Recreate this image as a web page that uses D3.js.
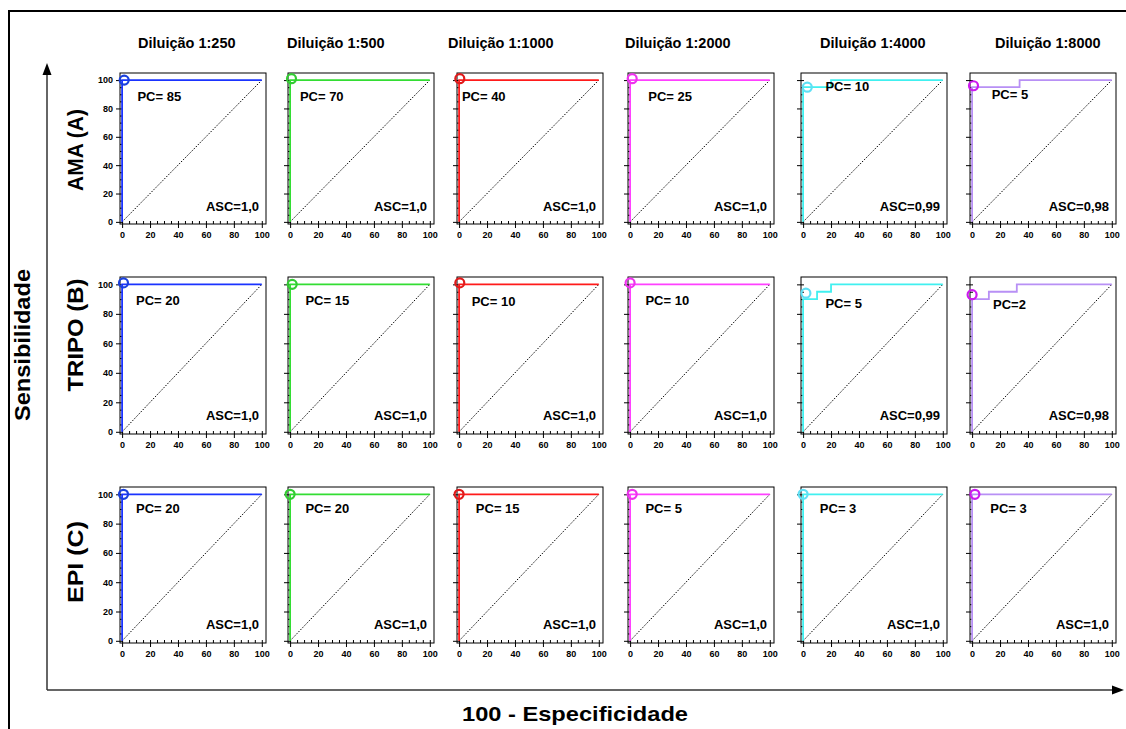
<!DOCTYPE html>
<html>
<head>
<meta charset="UTF-8">
<title>Curvas ROC por diluição</title>
<script src="https://cdn.jsdelivr.net/npm/d3@7"></script>
<style>
body { margin: 0; background: #fff; }
svg text { font-family: "Liberation Sans", Arial, sans-serif; font-weight: bold; fill: #000; }
.box { fill: #fff; stroke: #000; stroke-width: 1; }
.diag { fill: none; stroke: #000; stroke-width: 1; stroke-dasharray: 1.5, 1.5; }
.roc { fill: none; stroke-width: 1.8; }
.cut { fill: none; stroke-width: 2.2; }
.tick line, .minor line { stroke: #000; }
.minor text { display: none; }
</style>
</head>
<body>
<svg id="chart" width="1126" height="729"></svg>
<script>
// data
var dilutions = ["Diluição 1:250", "Diluição 1:500", "Diluição 1:1000", "Diluição 1:2000", "Diluição 1:4000", "Diluição 1:8000"];
var antigens = ["AMA (A)", "TRIPO (B)", "EPI (C)"];
var pcValues = [
  [85, 70, 40, 25, 10, 5],
  [20, 15, 10, 10, 5, 2],
  [20, 20, 15, 5, 3, 3]
];
var ascValues = [
  ["1,0", "1,0", "1,0", "1,0", "0,99", "0,98"],
  ["1,0", "1,0", "1,0", "1,0", "0,99", "0,98"],
  ["1,0", "1,0", "1,0", "1,0", "1,0", "1,0"]
];
// ROC curves: [100 - especificidade, sensibilidade]
var rocPerfect = [[0, 0], [0, 100], [100, 100]];
var rocA4000 = [[0, 0], [0, 95], [20, 95], [20, 100], [100, 100]];
var rocA8000 = [[0, 0], [0, 95], [34, 95], [34, 100], [100, 100]];
var rocB4000 = [[0, 0], [0, 90], [10, 90], [10, 95], [20, 95], [20, 100], [100, 100]];
var rocB8000 = [[0, 0], [0, 90], [12, 90], [12, 95], [32, 95], [32, 100], [100, 100]];
var rocCurves = [
  [rocPerfect, rocPerfect, rocPerfect, rocPerfect, rocA4000, rocA8000],
  [rocPerfect, rocPerfect, rocPerfect, rocPerfect, rocB4000, rocB8000],
  [rocPerfect, rocPerfect, rocPerfect, rocPerfect, rocPerfect, rocPerfect]
];
// cut-off points (PC)
var cutPoints = [
  [[1.5, 100], [1, 101], [0.5, 101], [1.5, 101], [3, 95], [1, 96]],
  [[1, 101], [1.5, 100], [0.5, 101], [0, 101], [2, 94], [0, 93]],
  [[1, 100], [0, 100], [0, 100], [1.5, 100], [0, 100], [2, 100]]
];
var tickLabels = [0, 20, 40, 60, 80, 100];

// layout
var lineColors = ["#1a33ff", "#33dd33", "#ff1a1a", "#ff40ff", "#40f0f0", "#b890f5"];
var pointColors = ["#1a40dd", "#33cc33", "#e01a1a", "#ee33ee", "#5ee0f5", "#cc1aee"];
var boxLeft = [120, 288, 457, 628, 801, 970];
var boxTop = [73, 277, 487];
var boxBottom = [224, 434, 643];
var boxWidth = 146;
var titleX = [138, 287, 448, 625, 820, 995];
var rowLabelY = [150, 335, 562];
var rowLabelLen = [82, 113, 82];
var pcAt = [
  [[11, 85], [7, 85], [2, 85], [13, 85], [16, 92], [14, 87]],
  [[10, 86], [11, 86], [9, 85], [11, 86], [16, 84], [15, 83]],
  [[10, 87], [11, 87], [12, 87], [11, 87], [12, 87], [13, 87]]
];

var svg = d3.select("#chart");

// outer frame
svg.append("path")
  .attr("d", "M9,729 V11 H1126")
  .attr("fill", "none").attr("stroke", "#000").attr("stroke-width", 2);

// big axes arrows
svg.append("line").attr("x1", 47).attr("y1", 690).attr("x2", 47).attr("y2", 74)
  .attr("stroke", "#333").attr("stroke-width", 1.5);
svg.append("path").attr("d", "M47,63 L42.5,75 L51.5,75 Z").attr("fill", "#000");
svg.append("line").attr("x1", 47).attr("y1", 690).attr("x2", 1113).attr("y2", 690)
  .attr("stroke", "#333").attr("stroke-width", 1.5);
svg.append("path").attr("d", "M1124,690 L1112,685.5 L1112,694.5 Z").attr("fill", "#000");

svg.append("text")
  .attr("transform", "translate(30,345) rotate(-90)")
  .attr("text-anchor", "middle")
  .attr("font-size", 22)
  .attr("textLength", 152).attr("lengthAdjust", "spacingAndGlyphs")
  .text("Sensibilidade");

svg.append("text")
  .attr("x", 575).attr("y", 721)
  .attr("text-anchor", "middle")
  .attr("font-size", 21)
  .attr("textLength", 226).attr("lengthAdjust", "spacingAndGlyphs")
  .text("100 - Especificidade");

// column titles
svg.selectAll(".coltitle").data(dilutions).enter().append("text")
  .attr("class", "coltitle")
  .attr("x", function(d, i) { return titleX[i]; })
  .attr("y", 48)
  .attr("font-size", 14.5)
  .text(function(d) { return d; });

// row labels
svg.selectAll(".rowlabel").data(antigens).enter().append("text")
  .attr("class", "rowlabel")
  .attr("transform", function(d, i) { return "translate(83," + rowLabelY[i] + ") rotate(-90)"; })
  .attr("text-anchor", "middle")
  .attr("font-size", 22)
  .attr("textLength", function(d, i) { return rowLabelLen[i]; })
  .attr("lengthAdjust", "spacingAndGlyphs")
  .text(function(d) { return d; });

antigens.forEach(function(ag, r) {
  dilutions.forEach(function(dl, c) {
    var x = d3.scaleLinear().domain([-1.5, 103]).range([boxLeft[c], boxLeft[c] + boxWidth]);
    var y = d3.scaleLinear().domain([-1.5, 105]).range([boxBottom[r], boxTop[r]]);
    var g = svg.append("g");

    g.append("rect").attr("class", "box")
      .attr("x", x(-1.5)).attr("y", y(105))
      .attr("width", x(103) - x(-1.5)).attr("height", y(-1.5) - y(105));

    // minor ticks (inside)
    g.append("g").attr("class", "minor")
      .attr("transform", "translate(0," + y(-1.5) + ")")
      .call(d3.axisBottom(x).tickValues(d3.range(0, 101, 5)).tickSize(-3).tickSizeOuter(0))
      .select(".domain").remove();
    g.append("g").attr("class", "minor")
      .attr("transform", "translate(" + x(-1.5) + ",0)")
      .call(d3.axisLeft(y).tickValues(d3.range(0, 101, 5)).tickSize(-3).tickSizeOuter(0))
      .select(".domain").remove();

    // major ticks and labels
    var xa = g.append("g")
      .attr("transform", "translate(0," + y(-1.5) + ")")
      .call(d3.axisBottom(x).tickValues(tickLabels).tickSize(4).tickSizeOuter(0).tickPadding(4));
    xa.select(".domain").remove();
    xa.selectAll("text").attr("font-size", 9).attr("font-family", null);

    var ya = g.append("g")
      .attr("transform", "translate(" + x(-1.5) + ",0)")
      .call(d3.axisLeft(y).tickValues(tickLabels).tickSize(4).tickSizeOuter(0).tickPadding(3)
        .tickFormat(c === 0 ? d3.format("d") : function() { return ""; }));
    ya.select(".domain").remove();
    ya.selectAll("text").attr("font-size", 9).attr("font-family", null);

    // chance line
    g.append("line").attr("class", "diag")
      .attr("x1", x(0)).attr("y1", y(0)).attr("x2", x(100)).attr("y2", y(100));

    // ROC curve
    var line = d3.line().x(function(d) { return x(d[0]); }).y(function(d) { return y(d[1]); });
    g.append("path").attr("class", "roc")
      .attr("d", line(rocCurves[r][c]))
      .attr("stroke", lineColors[c]);

    var p = cutPoints[r][c];
    g.append("circle").attr("class", "cut")
      .attr("cx", x(p[0])).attr("cy", y(p[1])).attr("r", 4.5)
      .attr("stroke", pointColors[c]);

    var pc = pcAt[r][c];
    g.append("text")
      .attr("x", x(pc[0])).attr("y", y(pc[1]))
      .attr("font-size", 13)
      .text((pcValues[r][c] < 10 && r === 1 && c === 5 ? "PC=" : "PC= ") + pcValues[r][c]);

    g.append("text")
      .attr("x", x(98)).attr("y", y(8))
      .attr("text-anchor", "end")
      .attr("font-size", 13)
      .text("ASC=" + ascValues[r][c]);
  });
});
</script>
</body>
</html>
